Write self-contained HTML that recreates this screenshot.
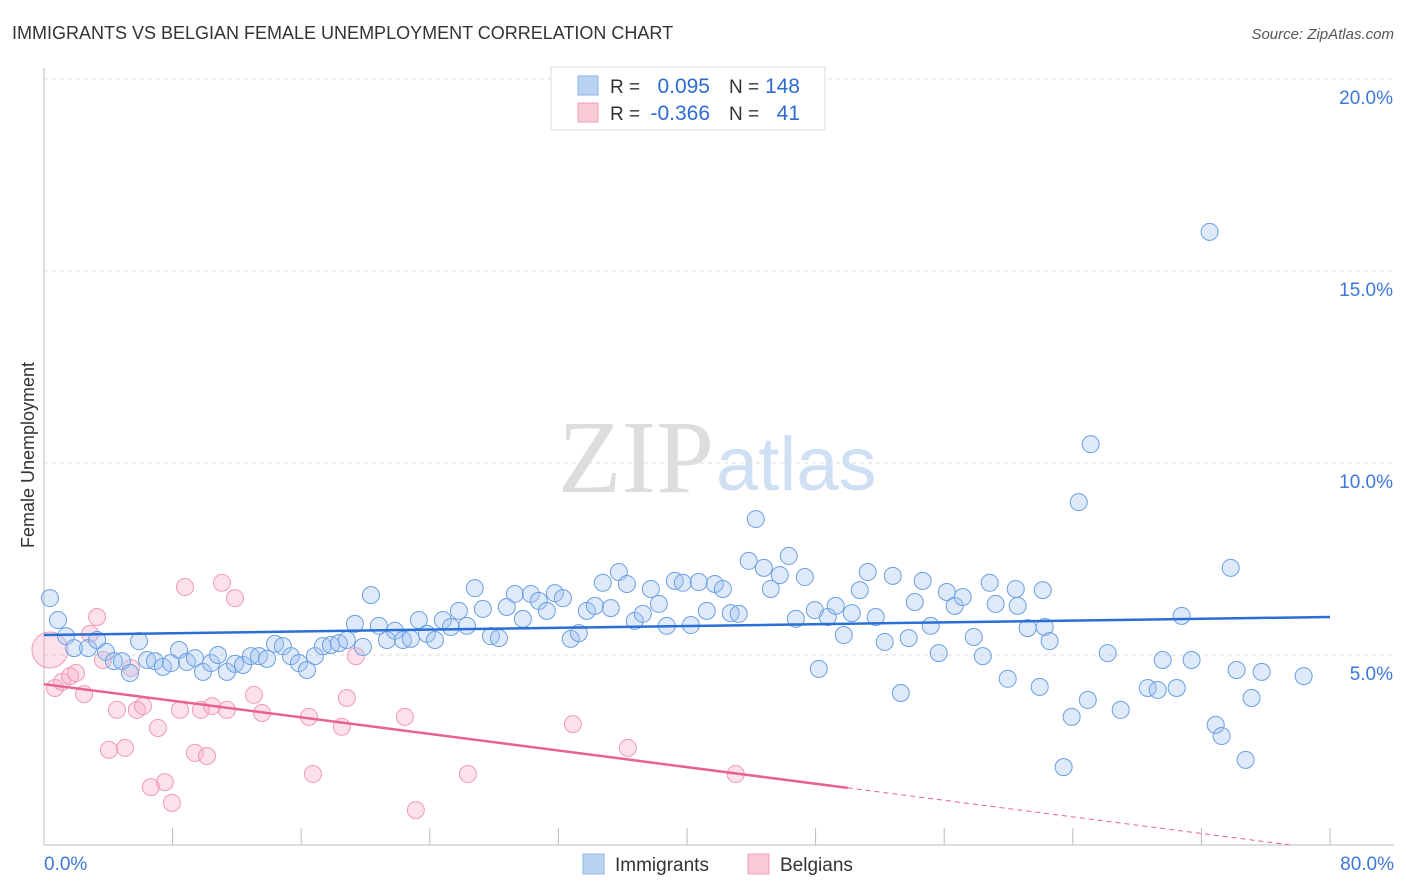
<!DOCTYPE html>
<html><head><meta charset="utf-8"><style>
body{margin:0;background:#fff;font-family:"Liberation Sans",sans-serif;}
svg{display:block}
</style></head><body>
<svg id="chart" width="1406" height="892">
<text x="12" y="39" font-size="18" fill="#333">IMMIGRANTS VS BELGIAN FEMALE UNEMPLOYMENT CORRELATION CHART</text>
<text x="1394" y="39" font-size="15" font-style="italic" fill="#555" text-anchor="end">Source: ZipAtlas.com</text>
<text x="714" y="492" font-size="104" font-family="Liberation Serif,serif" fill="#ddd" text-anchor="end">ZIP</text>
<text x="716" y="490" font-size="76" fill="#cfe0f4">atlas</text>
<text transform="translate(34,455) rotate(-90)" font-size="18" fill="#333" text-anchor="middle">Female Unemployment</text>
<g id="grid"></g><g id="axes"></g><g id="pts"></g><g id="lines"></g>
<g>
<rect x="551" y="67" width="274" height="63" fill="#fff" stroke="#ddd"/>
<rect x="578" y="76" width="20" height="19" fill="#b9d3f3" stroke="#8fb6e6"/>
<rect x="578" y="103" width="20" height="19" fill="#f9c9d6" stroke="#ef9fb6"/>
<text x="610" y="93" font-size="19" fill="#333">R = </text><text x="710" y="93" font-size="21" fill="#2f6ad0" text-anchor="end">0.095</text>
<text x="729" y="93" font-size="19" fill="#333">N = </text><text x="800" y="93" font-size="21" fill="#2f6ad0" text-anchor="end">148</text>
<text x="610" y="120" font-size="19" fill="#333">R = </text><text x="710" y="120" font-size="21" fill="#2f6ad0" text-anchor="end">-0.366</text>
<text x="729" y="120" font-size="19" fill="#333">N = </text><text x="800" y="120" font-size="21" fill="#2f6ad0" text-anchor="end">41</text>
</g>
<g>
<rect x="583" y="854" width="21" height="20" fill="#b9d3f3" stroke="#8fb6e6"/>
<text x="615" y="871" font-size="19" fill="#333">Immigrants</text>
<rect x="748" y="854" width="21" height="20" fill="#f9c9d6" stroke="#ef9fb6"/>
<text x="780" y="871" font-size="19" fill="#333">Belgians</text>
</g>
</svg>
<script>
const yTicks=[5,10,15,20];
const yTickLabels=["5.0%","10.0%","15.0%","20.0%"];
const xTicks=[0,8,16,24,32,40,48,56,64,72,80];
const blueX=[.37,.87,1.37,1.87,2.74,3.30,3.86,4.35,4.85,5.35,5.91,6.41,6.90,7.40,7.90,8.40,8.89,9.39,9.89,10.39,10.82,11.38,11.88,12.38,12.87,13.37,13.87,14.37,14.86,15.36,15.86,16.36,16.85,17.35,17.85,18.35,18.84,19.34,19.84,20.34,20.83,21.33,21.83,22.33,22.82,23.32,23.82,24.32,24.81,25.31,25.81,26.31,26.80,27.30,27.80,28.30,28.79,29.29,29.79,30.29,30.78,31.28,31.78,32.28,32.77,33.27,33.77,34.27,34.76,35.26,35.76,36.26,36.75,37.25,37.75,38.25,38.74,39.24,39.74,40.24,40.73,41.23,41.73,42.23,42.72,43.22,43.84,44.28,44.78,45.21,45.77,46.33,46.77,47.33,47.95,48.20,48.76,49.25,49.75,50.25,50.75,51.24,51.74,52.30,52.80,53.30,53.79,54.17,54.66,55.16,55.66,56.16,56.65,57.15,57.84,58.40,58.83,59.20,59.95,60.45,60.57,61.19,61.94,62.13,62.25,62.56,63.43,63.93,64.37,64.93,65.11,66.17,66.98,68.66,69.28,69.59,70.46,70.77,71.39,72.51,72.89,73.26,73.82,74.19,74.75,75.12,75.75,78.36];
const blueY=[6.48,5.91,5.49,5.18,5.18,5.39,5.08,4.84,4.84,4.53,5.36,4.87,4.84,4.69,4.79,5.13,4.82,4.92,4.56,4.79,5.00,4.56,4.77,4.74,4.97,4.97,4.90,5.29,5.23,4.97,4.79,4.61,4.97,5.23,5.26,5.31,5.39,5.81,5.21,6.56,5.76,5.39,5.63,5.39,5.42,5.91,5.55,5.39,5.91,5.73,6.15,5.76,6.74,6.20,5.49,5.44,6.25,6.59,5.94,6.59,6.41,6.15,6.61,6.48,5.42,5.57,6.15,6.28,6.88,6.22,7.16,6.85,5.89,6.07,6.72,6.33,5.76,6.93,6.88,5.78,6.90,6.15,6.85,6.72,6.09,6.07,7.45,8.54,7.27,6.72,7.08,7.58,5.94,7.03,6.17,4.64,5.99,6.28,5.52,6.09,6.69,7.16,5.99,5.34,7.06,4.01,5.44,6.38,6.93,5.76,5.05,6.64,6.28,6.51,5.47,4.97,6.88,6.33,4.38,6.72,6.28,5.70,4.17,6.69,5.73,5.36,2.08,3.39,8.98,3.83,10.49,5.05,3.57,4.14,4.09,4.87,4.14,6.02,4.87,16.02,3.18,2.89,7.27,4.61,2.27,3.88,4.56,4.45];
const pinkX=[.37,.68,1.12,1.62,1.99,2.49,2.86,3.30,3.67,4.04,4.54,5.04,5.41,5.78,6.16,6.65,7.09,7.52,7.96,8.46,8.77,9.39,9.76,10.14,10.45,11.07,11.38,11.88,13.06,13.56,16.48,16.73,18.53,18.84,19.40,22.45,23.13,26.37,32.90,36.32,43.03];
const pinkY=[5.13,4.14,4.30,4.45,4.53,3.98,5.55,5.99,4.87,2.53,3.57,2.58,4.66,3.57,3.67,1.56,3.10,1.69,1.15,3.57,6.77,2.45,3.57,2.37,3.67,6.88,3.57,6.48,3.96,3.49,3.39,1.90,3.13,3.88,4.97,3.39,0.96,1.90,3.20,2.58,1.90];
const blueTrend=[5.52,5.99];
const pinkTrend=[4.24,-0.054];
const NS="http://www.w3.org/2000/svg";
const sx=v=>44+v*(1286/80), sy=v=>847-v*38.4;
function mk(p,tag,a){const e=document.createElementNS(NS,tag);for(const k in a)e.setAttribute(k,a[k]);p.appendChild(e);return e;}
const grid=document.getElementById('grid'),axes=document.getElementById('axes'),pts=document.getElementById('pts'),lines=document.getElementById('lines');
yTicks.forEach((t,i)=>{
 const g=mk(grid,'line',{x1:44,x2:1394,y1:sy(t),y2:sy(t),stroke:'#ddd','stroke-dasharray':'4,4'});
 
 
 const tx=mk(axes,'text',{x:1393,y:sy(t)+25,'font-size':19,fill:'#3b78d8','text-anchor':'end'});tx.textContent=yTickLabels[i];
 
 
});
const ya=mk(axes,'line',{x1:44,x2:44,y1:68,y2:845,stroke:'#bbb'});


const xa=mk(axes,'line',{x1:44,x2:1394,y1:845,y2:845,stroke:'#bbb'});


xTicks.forEach(t=>{const l=mk(axes,'line',{x1:sx(t),x2:sx(t),y1:828,y2:845,stroke:'#bbb'});
 
 });
const xl0=mk(axes,'text',{x:44,y:870,'font-size':19,fill:'#3b78d8'});xl0.textContent='0.0%';


const xl1=mk(axes,'text',{x:1394,y:870,'font-size':19,fill:'#3b78d8','text-anchor':'end'});xl1.textContent='80.0%';


pinkX.forEach((x,i)=>{const c=mk(pts,'circle',{cx:sx(x),cy:sy(pinkY[i]),r:i===0?18:8.5,fill:'rgba(246,170,195,0.35)',stroke:'#f19ab5','stroke-width':1});
 
 });
blueX.forEach((x,i)=>{const c=mk(pts,'circle',{cx:sx(x),cy:sy(blueY[i]),r:8.5,fill:'rgba(160,195,240,0.35)',stroke:'#6c9fe0','stroke-width':1});
 
 });
const bl=mk(lines,'line',{x1:sx(0),y1:sy(blueTrend[0]),x2:sx(80),y2:sy(blueTrend[1]),stroke:'#2a6fd6','stroke-width':2.5});


const pf=x=>pinkTrend[0]+pinkTrend[1]*x;
const pl=mk(lines,'line',{x1:sx(0),y1:sy(pf(0)),x2:sx(50),y2:sy(pf(50)),stroke:'#e8628f','stroke-width':2.5});


const pd=mk(lines,'line',{x1:sx(50),y1:sy(pf(50)),x2:sx(77.5),y2:sy(pf(77.5)),stroke:'#e8628f','stroke-width':1,'stroke-dasharray':'5,4'});


</script>
</body></html>
